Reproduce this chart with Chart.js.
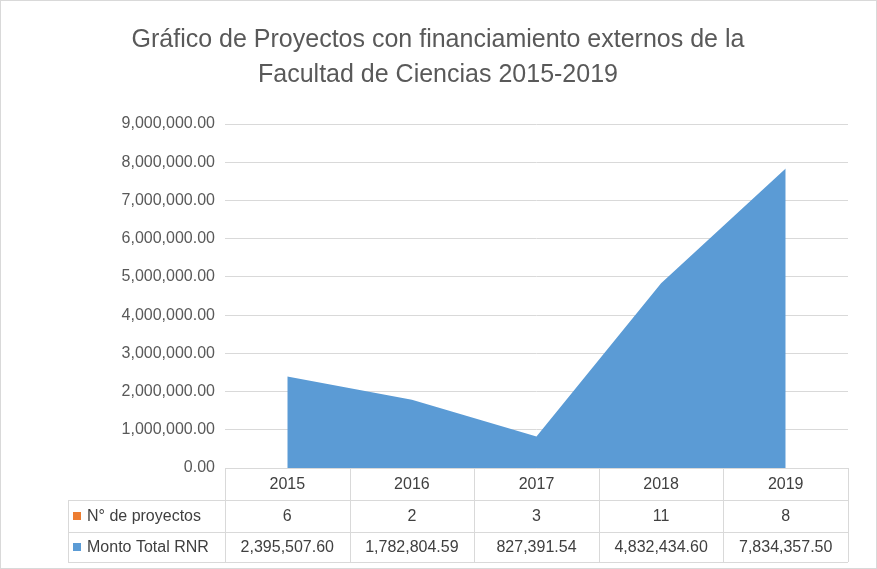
<!DOCTYPE html>
<html><head><meta charset="utf-8">
<script src="https://cdn.jsdelivr.net/npm/chart.js@4/dist/chart.umd.min.js"></script>
<style>html,body{margin:0;padding:0;background:#fff}#w{width:877px;height:569px}</style>
</head><body><div id="w"><canvas id="c"></canvas></div>
<script>
const years = ['2015','2016','2017','2018','2019'];
const proyectos = [6,2,3,11,8];
const monto = [2395507.60,1782804.59,827391.54,4832434.60,7834357.50];
const montoLabels = ['2,395,507.60','1,782,804.59','827,391.54','4,832,434.60','7,834,357.50'];
const FONT = "'Liberation Sans', Arial, sans-serif";
const fmt = v => v.toLocaleString('en-US',{minimumFractionDigits:2,maximumFractionDigits:2});

const tablePlugin = {
  id:'tbl',
  afterDraw(ch){
    const c = ch.ctx, x = ch.scales.x, a = ch.chartArea;
    const n = years.length, w = (a.right-a.left)/n;
    const y0 = a.bottom, y1 = y0+32, y2 = y1+32, y3 = y2+30, lx = 68;
    c.save();
    c.strokeStyle = '#d9d9d9'; c.lineWidth = 1;
    c.beginPath();
    for (let i=0;i<=n;i++){ const xx = Math.round(a.left+i*w)+0.5; c.moveTo(xx,y0); c.lineTo(xx,y3); }
    c.moveTo(lx+0.5,y1); c.lineTo(lx+0.5,y3);
    [y1,y2,y3].forEach(y=>{ c.moveTo(lx,y+0.5); c.lineTo(a.right,y+0.5); });
    c.moveTo(a.left,y0+0.5); c.lineTo(a.right,y0+0.5);
    c.stroke();
    c.fillStyle = '#404040'; c.font = '16px '+FONT; c.textAlign='center'; c.textBaseline='middle';
    for (let i=0;i<n;i++){
      const cx = a.left+(i+0.5)*w;
      c.fillText(years[i],cx,(y0+y1)/2+1);
      c.fillText(String(proyectos[i]),cx,(y1+y2)/2+1);
      c.fillText(montoLabels[i],cx,(y2+y3)/2+1);
    }
    c.textAlign='left';
    c.fillStyle='#ed7d31'; c.fillRect(73,(y1+y2)/2-4,8,8);
    c.fillStyle='#5b9bd5'; c.fillRect(73,(y2+y3)/2-4,8,8);
    c.fillStyle='#404040';
    c.fillText('N° de proyectos',87,(y1+y2)/2+1);
    c.fillText('Monto Total RNR',87,(y2+y3)/2+1);
    c.font = '25px '+FONT; c.fillStyle='#595959'; c.textAlign='center';
    c.fillText('Gráfico de Proyectos con financiamiento externos de la',438,40);
    c.fillText('Facultad de Ciencias 2015-2019',438,75);
    c.strokeStyle='#d9d9d9'; c.strokeRect(0.5,0.5,876,568);
    c.restore();
  }
};

new Chart(document.getElementById('c'),{
  type:'line',
  data:{labels:years,datasets:[
    {label:'N° de proyectos',data:proyectos,borderColor:'#ed7d31',backgroundColor:'#ed7d31',pointRadius:0,borderWidth:0,fill:'origin'},
    {label:'Monto Total RNR',data:monto,borderColor:'#5b9bd5',backgroundColor:'#5b9bd5',pointRadius:0,borderWidth:0,fill:'origin',tension:0}
  ]},
  options:{
    responsive:true,maintainAspectRatio:false,animation:false,
    layout:{padding:{top:124,right:29,left:0,bottom:0}},
    plugins:{legend:{display:false},title:{display:false},tooltip:{enabled:false}},
    scales:{
      x:{offset:true,grid:{display:false},border:{display:false},ticks:{display:false},
         afterFit(s){s.height=101;}},
      y:{min:0,max:9000000,ticks:{stepSize:1000000,color:'#595959',font:{family:FONT,size:16},callback:v=>fmt(v),padding:10},
         grid:{color:'#d9d9d9',drawTicks:false},border:{display:false},
         afterFit(s){s.width=225;}}
    }
  },
  plugins:[tablePlugin]
});
</script></body></html>
